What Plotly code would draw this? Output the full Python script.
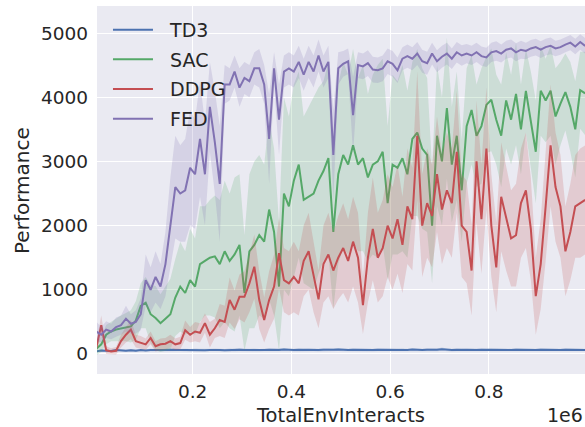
import plotly.graph_objects as go

# x positions: environment interactions (one evaluation every 10k steps)
steps = [5000 + 10000 * i for i in range(100)]

td3 = [40, 55, 50, 45, 60, 55, 50, 58, 52, 60, 55, 62, 58, 55, 60, 65, 58, 62, 60, 57,
       63, 60, 58, 62, 65, 60, 58, 63, 60, 66, 62, 60, 64, 58, 62, 65, 60, 63, 70, 62,
       60, 65, 62, 68, 63, 60, 66, 62, 64, 70, 63, 60, 65, 62, 67, 63, 60, 64, 62, 66,
       63, 61, 65, 62, 68, 63, 60, 66, 62, 64, 75, 63, 60, 65, 62, 66, 63, 60, 64, 62,
       66, 63, 60, 65, 62, 66, 63, 61, 64, 62, 66, 63, 60, 65, 62, 66, 63, 61, 64, 62]
td3_std = [15, 18, 16, 15, 18, 17, 16, 18, 17, 19, 18, 20, 19, 18, 20, 21, 19, 20, 20, 19,
           21, 20, 19, 20, 22, 20, 19, 21, 20, 22, 21, 20, 22, 19, 21, 22, 20, 21, 24, 21,
           20, 22, 21, 23, 21, 20, 22, 21, 22, 24, 21, 20, 22, 21, 23, 21, 20, 22, 21, 22,
           21, 20, 22, 21, 23, 21, 20, 22, 21, 22, 25, 21, 20, 22, 21, 22, 21, 20, 22, 21,
           22, 21, 20, 22, 21, 22, 21, 20, 22, 21, 22, 21, 20, 22, 21, 22, 21, 20, 22, 21]

sac = [80, 150, 300, 350, 380, 400, 420, 430, 520, 750,
       800, 620, 560, 480, 550, 620, 880, 1050, 950, 1150,
       1050, 1400, 1450, 1500, 1520, 1400, 1600, 1450, 1550, 1700,
       950, 1600, 1700, 1850, 1750, 2250, 1900, 1050, 2500, 2300,
       2700, 2950, 2400, 2450, 2500, 2700, 2850, 3050, 1900, 2800,
       3100, 2950, 3250, 2950, 3050, 2750, 2950, 3000, 3150, 2350,
       2950, 2900, 3050, 2800, 3350, 3450, 3200, 3100, 2000, 3400,
       3000, 3830, 2950, 3400, 2550, 3550, 3800, 3400, 3550, 3880,
       3960, 3650, 3400, 3950, 3650, 4050, 3500, 4100, 3650, 3150,
       4100, 3950, 4100, 3700, 3900, 4080, 3850, 3500, 4110, 4060]
sac_std = [100, 120, 150, 150, 180, 200, 220, 250, 300, 350,
           400, 450, 500, 450, 500, 550, 600, 700, 650, 800,
           750, 900, 850, 900, 950, 1000, 1100, 1050, 1200, 1100,
           900, 1200, 1300, 1250, 1200, 1400, 1300, 1000, 1500, 1400,
           1500, 1450, 1300, 1400, 1500, 1450, 1400, 1500, 1200, 1400,
           1450, 1400, 1500, 1350, 1450, 1300, 1400, 1500, 1450, 1200,
           1400, 1350, 1450, 1300, 1200, 1300, 1250, 1200, 900, 1100,
           1000, 1100, 900, 1000, 800, 900, 850, 800, 900, 750,
           800, 700, 800, 750, 700, 800, 700, 650, 750, 800,
           700, 650, 700, 750, 650, 600, 700, 750, 600, 650]

ddpg = [100, 450, 60, 40, 50, 200, 300, 380, 200, 180,
        150, 250, 120, 150, 160, 200, 150, 170, 370, 300,
        350, 330, 480, 300, 400, 530, 500, 840, 690, 890,
        890, 1100, 1360, 840, 530, 840, 1050, 1570, 1150, 1100,
        1200, 1100, 1450, 1600, 1200, 850, 1400, 1550, 1300, 1500,
        1650, 1450, 1750, 1500, 760, 1500, 1950, 1500, 1650, 2000,
        1800, 2100, 1700, 2300, 2100, 3400, 2000, 2350, 2150, 2800,
        2250, 2550, 2350, 3150, 2000, 1900, 1300, 3000, 2100, 3200,
        2000, 1350, 2450, 2100, 1800, 1850, 2350, 2550, 1950, 900,
        1400, 2300, 3250, 2600, 2300, 1600, 1900, 2300, 2350, 2400]
ddpg_std = [80, 150, 60, 50, 60, 100, 120, 150, 100, 100,
            90, 100, 80, 90, 90, 100, 90, 100, 150, 120,
            150, 150, 150, 200, 150, 250, 250, 350, 300, 350,
            400, 450, 500, 450, 350, 450, 500, 550, 500, 500,
            550, 500, 550, 600, 550, 450, 600, 650, 600, 650,
            700, 650, 700, 700, 450, 700, 800, 700, 750, 800,
            800, 850, 750, 900, 800, 1000, 800, 850, 800, 900,
            850, 900, 850, 950, 800, 800, 700, 950, 850, 950,
            800, 700, 850, 800, 750, 800, 850, 900, 800, 600,
            700, 850, 950, 850, 800, 700, 750, 800, 850, 850]

fed = [350, 300, 380, 350, 420, 450, 550, 470, 500, 620,
       1150, 1000, 1200, 1050, 1400, 2050, 2600, 2500, 2550, 2900,
       2800, 3350, 2800, 3850, 3300, 2650, 4200, 4200, 4400, 4150,
       4300, 4250, 4450, 4450, 4200, 3350, 4450, 3650, 4400, 4450,
       4400, 4550, 4350, 4550, 4400, 4650, 4400, 4550, 3100, 4450,
       4520, 4560, 3720, 4500, 4480, 4530, 4430, 4420, 4450, 4560,
       4520, 4420, 4600, 4640, 4600, 4680, 4560, 4530, 4680, 4560,
       4630, 4680, 4600, 4700, 4650, 4680, 4650, 4700, 4640, 4620,
       4700, 4720, 4680, 4740, 4760, 4700, 4740, 4720, 4760, 4780,
       4740, 4780, 4800, 4760, 4780, 4820, 4850, 4790, 4860, 4800]
fed_std = [150, 120, 130, 120, 150, 150, 200, 150, 180, 250,
           400, 350, 400, 350, 500, 700, 800, 750, 800, 900,
           850, 900, 800, 700, 800, 900, 300, 250, 250, 300,
           250, 250, 250, 300, 300, 700, 250, 550, 250, 250,
           250, 250, 250, 250, 250, 250, 250, 250, 700, 250,
           200, 200, 600, 200, 200, 200, 200, 200, 200, 200,
           200, 200, 180, 180, 180, 180, 180, 180, 170, 170,
           170, 170, 160, 160, 160, 150, 150, 150, 150, 150,
           150, 150, 140, 140, 140, 140, 140, 130, 130, 130,
           130, 130, 130, 120, 120, 120, 120, 120, 120, 120]

series = [
    ("TD3", td3, td3_std, "#4C72B0", "rgba(76,114,176,0.2)"),
    ("SAC", sac, sac_std, "#55A868", "rgba(85,168,104,0.2)"),
    ("DDPG", ddpg, ddpg_std, "#C44E52", "rgba(196,78,82,0.2)"),
    ("FED", fed, fed_std, "#8172B2", "rgba(129,114,178,0.2)"),
]

x_tickvals = [200000, 400000, 600000, 800000]
x_ticktext = ["0.2", "0.4", "0.6", "0.8"]
y_tickvals = [0, 1000, 2000, 3000, 4000, 5000]

FONT = "DejaVu Sans"
TXT = "#262626"
NB = "\u00a0\u00a0"

fig = go.Figure()
for name, mean, std, color, fill in series:
    upper = [m + s for m, s in zip(mean, std)]
    lower = [m - s for m, s in zip(mean, std)]
    fig.add_trace(go.Scatter(x=steps, y=upper, mode="lines", line=dict(width=0),
                             showlegend=False, hoverinfo="skip", legendgroup=name))
    fig.add_trace(go.Scatter(x=steps, y=lower, mode="lines", line=dict(width=0),
                             fill="tonexty", fillcolor=fill, showlegend=False,
                             hoverinfo="skip", legendgroup=name))
    fig.add_trace(go.Scatter(x=steps, y=mean, mode="lines", name=NB + name,
                             line=dict(color=color, width=2), legendgroup=name))

fig.update_layout(
    width=585, height=427,
    margin=dict(l=97, r=0, t=6, b=53),
    paper_bgcolor="white",
    plot_bgcolor="#EAEAF2",
    font=dict(family=FONT, size=18.5, color=TXT),
    showlegend=True,
    legend=dict(x=0.0225, y=0.987, xanchor="left", yanchor="top",
                bgcolor="rgba(0,0,0,0)", font=dict(size=19, color=TXT, family=FONT),
                tracegroupgap=2, itemwidth=40),
    xaxis=dict(range=[6400, 994700], tickvals=x_tickvals, ticktext=x_ticktext,
               showgrid=True, gridcolor="white", gridwidth=1.3, zeroline=False,
               showline=False, ticks="", ticklabelstandoff=4,
               tickfont=dict(size=18.5, color=TXT, family=FONT)),
    yaxis=dict(range=[-312, 5421], tickvals=y_tickvals,
               showgrid=True, gridcolor="white", gridwidth=1.3, zeroline=False,
               showline=False, ticks="", ticklabelstandoff=8,
               tickfont=dict(size=18.5, color=TXT, family=FONT)),
    annotations=[
        dict(text="TotalEnvInteracts", xref="paper", yref="paper", x=0.498, y=-0.1114,
             xanchor="center", yanchor="middle", showarrow=False, height=20,
             font=dict(size=19.5, color=TXT, family=FONT)),
        dict(text="1e6", xref="paper", yref="paper", x=0.959, y=-0.1114,
             xanchor="center", yanchor="middle", showarrow=False, height=20,
             font=dict(size=19, color=TXT, family=FONT)),
        dict(text="Performance", xref="paper", yref="paper", x=-0.1537, y=0.5,
             xanchor="center", yanchor="middle", textangle=-90, showarrow=False,
             font=dict(size=20, color=TXT, family=FONT)),
    ],
)

fig.write_html("out.html", post_script="document.body.style.margin='0';",
               config={"displayModeBar": False})
